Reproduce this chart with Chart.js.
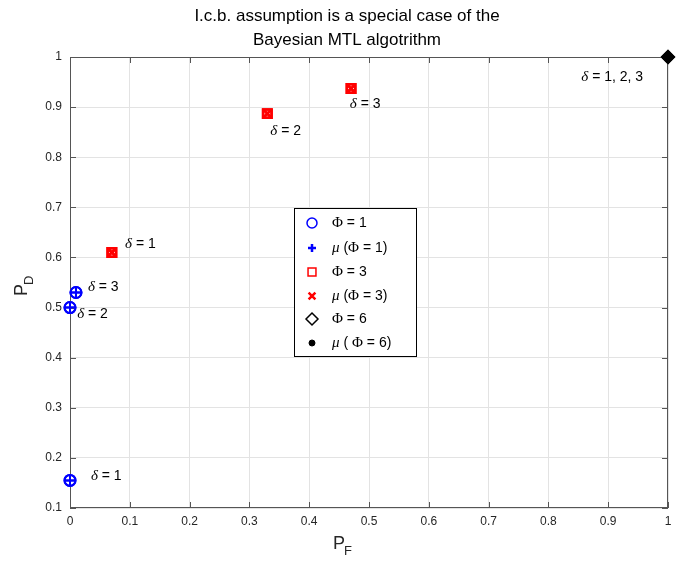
<!DOCTYPE html>
<html>
<head>
<meta charset="utf-8">
<script src="https://cdn.jsdelivr.net/npm/chart.js@4.4.1/dist/chart.umd.min.js"></script>
<style>body{margin:0;background:#fff}</style>
</head>
<body>
<canvas id="c" width="693" height="564"></canvas>
<script>
const titleLines = ['I.c.b. assumption is a special case of the', 'Bayesian MTL algotrithm']
const seriesNames = ['Φ = 1', 'μ (Φ = 1)', 'Φ = 3', 'μ (Φ = 3)', 'Φ = 6', 'μ ( Φ = 6)']

// Phi = 1 (blue), Phi = 3 (red), Phi = 6 (black)
const phi1X = [0, 0, 0.01]
const phi1Y = [0.155, 0.5, 0.53]
const phi3X = [0.07, 0.33, 0.47]
const phi3Y = [0.61, 0.887, 0.937]
const phi6X = [1]
const phi6Y = [1]

// delta annotations (data coords, left / middle aligned)
const deltaText = ['δ = 1', 'δ = 2', 'δ = 3', 'δ = 1', 'δ = 2', 'δ = 3', 'δ = 1, 2, 3']
const deltaX = [0.035, 0.012, 0.03, 0.092, 0.335, 0.468, 0.855]
const deltaY = [0.164, 0.487, 0.541, 0.627, 0.852, 0.906, 0.96]

const pts = (xs, ys) => xs.map((x, i) => ({ x, y: ys[i] }))

const SANS = '"Liberation Sans", Arial, sans-serif'
const SERIF = '"Liberation Serif", "Times New Roman", serif'
const INK = '#262626'

// draws text mixing sans with TeX-like greek letters
const drawRich = (ctx, text, x, y, size) => {
  let cx = x
  for (const ch of text) {
    if (ch === 'δ' || ch === 'μ') ctx.font = `italic ${size + 1}px ${SERIF}`
    else if (ch === 'Φ') ctx.font = `${size + 1}px ${SERIF}`
    else ctx.font = `${size}px ${SANS}`
    ctx.fillText(ch, cx, y)
    cx += ctx.measureText(ch).width
  }
}

const datasets = [
  { label: seriesNames[0], data: pts(phi1X, phi1Y), pointStyle: 'circle', pointRadius: 5.5, borderWidth: 2, borderColor: '#0000ff', backgroundColor: 'rgba(0,0,0,0)' },
  { label: seriesNames[1], data: pts(phi1X, phi1Y), pointStyle: 'cross', pointRadius: 5, borderWidth: 2, borderColor: '#0000ff', backgroundColor: 'rgba(0,0,0,0)' },
  { label: seriesNames[2], data: pts(phi3X, phi3Y), pointStyle: 'rect', pointRadius: 6, borderWidth: 2.5, borderColor: '#ff0000', backgroundColor: 'rgba(0,0,0,0)' },
  { label: seriesNames[3], data: pts(phi3X, phi3Y), pointStyle: 'crossRot', pointRadius: 4.5, borderWidth: 2.5, borderColor: '#ff0000', backgroundColor: 'rgba(0,0,0,0)' },
  { label: seriesNames[4], data: pts(phi6X, phi6Y), pointStyle: 'rectRot', pointRadius: 6, borderWidth: 2, borderColor: '#000000', backgroundColor: 'rgba(0,0,0,0)' },
  { label: seriesNames[5], data: pts(phi6X, phi6Y), pointStyle: 'circle', pointRadius: 4.5, borderWidth: 1, borderColor: '#000000', backgroundColor: '#000000' },
].map(d => ({ ...d, clip: false, pointHoverRadius: d.pointRadius }))

// legend marker look (thinner than plotted points)
const legendRadius = [5, 4, 5.6, 4.8, 6, 3]
const legendWidth = [1.5, 2.5, 1.5, 2.5, 1.5, 1]

const fmt = v => String(Number(v.toFixed(1)))

const decorations = {
  id: 'decorations',
  afterDraw(chart) {
    const { ctx, chartArea: a, scales: { x, y } } = chart
    ctx.save()

    // box and inward ticks
    ctx.strokeStyle = '#555'
    ctx.lineWidth = 1
    ctx.strokeRect(a.left + 0.5, a.top + 0.5, a.right - a.left - 1, a.bottom - a.top - 1)
    ctx.beginPath()
    x.ticks.forEach(t => {
      const px = Math.round(x.getPixelForValue(t.value)) + 0.5
      ctx.moveTo(px, a.bottom); ctx.lineTo(px, a.bottom - 6)
      ctx.moveTo(px, a.top); ctx.lineTo(px, a.top + 6)
    })
    y.ticks.forEach(t => {
      const py = Math.round(y.getPixelForValue(t.value)) + 0.5
      ctx.moveTo(a.left, py); ctx.lineTo(a.left + 6, py)
      ctx.moveTo(a.right, py); ctx.lineTo(a.right - 6, py)
    })
    ctx.stroke()

    // title
    ctx.fillStyle = '#000'
    ctx.textAlign = 'center'
    ctx.textBaseline = 'middle'
    ctx.font = `17px ${SANS}`
    ctx.fillText(titleLines[0], 347, 16)
    ctx.fillText(titleLines[1], 347, 40)

    // axis labels with subscripts
    ctx.fillStyle = INK
    ctx.textAlign = 'left'
    ctx.font = `18px ${SANS}`
    ctx.fillText('P', 333, 544)
    ctx.font = `13px ${SANS}`
    ctx.fillText('F', 344, 551)
    ctx.save()
    ctx.translate(22, 296)
    ctx.rotate(-Math.PI / 2)
    ctx.font = `18px ${SANS}`
    ctx.fillText('P', 0, 0)
    ctx.font = `13px ${SANS}`
    ctx.fillText('D', 11, 7)
    ctx.restore()

    // redraw points on top of the box so edge markers are not cut by it
    chart.getSortedVisibleDatasetMetas().slice().reverse().forEach(m => m.controller.draw())

    // delta annotations
    ctx.fillStyle = '#000'
    ctx.textBaseline = 'middle'
    deltaText.forEach((s, i) => {
      drawRich(ctx, s, x.getPixelForValue(deltaX[i]), y.getPixelForValue(deltaY[i]), 14)
    })

    // legend
    const lx = 294, ly = 208, lw = 122, lh = 148
    ctx.fillStyle = '#fff'
    ctx.fillRect(lx, ly, lw, lh)
    ctx.strokeStyle = '#000'
    ctx.lineWidth = 1
    ctx.strokeRect(lx + 0.5, ly + 0.5, lw, lh)
    const rowY = [223, 248, 272, 296, 319, 343]
    chart.data.datasets.forEach((d, i) => {
      ctx.strokeStyle = d.borderColor
      ctx.fillStyle = d.backgroundColor
      ctx.lineWidth = legendWidth[i]
      Chart.helpers.drawPoint(ctx, { pointStyle: d.pointStyle, radius: legendRadius[i], rotation: 0, borderWidth: legendWidth[i] }, 312, rowY[i])
      ctx.fillStyle = '#000'
      drawRich(ctx, d.label, 332, rowY[i], 14)
    })
    ctx.restore()
  }
}

new Chart(document.getElementById('c'), {
  type: 'scatter',
  data: { datasets },
  options: {
    responsive: false,
    animation: false,
    layout: { padding: { top: 57, right: 25, left: 0, bottom: 0 } },
    plugins: { legend: { display: false }, tooltip: { enabled: false } },
    scales: {
      x: {
        type: 'linear', min: 0, max: 1,
        ticks: { stepSize: 0.1, color: INK, font: { family: SANS, size: 12 }, padding: 6, callback: fmt },
        grid: { color: '#e3e3e3', drawTicks: false },
        border: { display: false },
        afterFit: s => { s.height = 56 }
      },
      y: {
        type: 'linear', min: 0.1, max: 1,
        ticks: { stepSize: 0.1, color: INK, font: { family: SANS, size: 12 }, padding: 8, callback: fmt },
        grid: { color: '#e3e3e3', drawTicks: false },
        border: { display: false },
        afterFit: s => { s.width = 70 }
      }
    }
  },
  plugins: [decorations]
})
</script>
</body>
</html>
